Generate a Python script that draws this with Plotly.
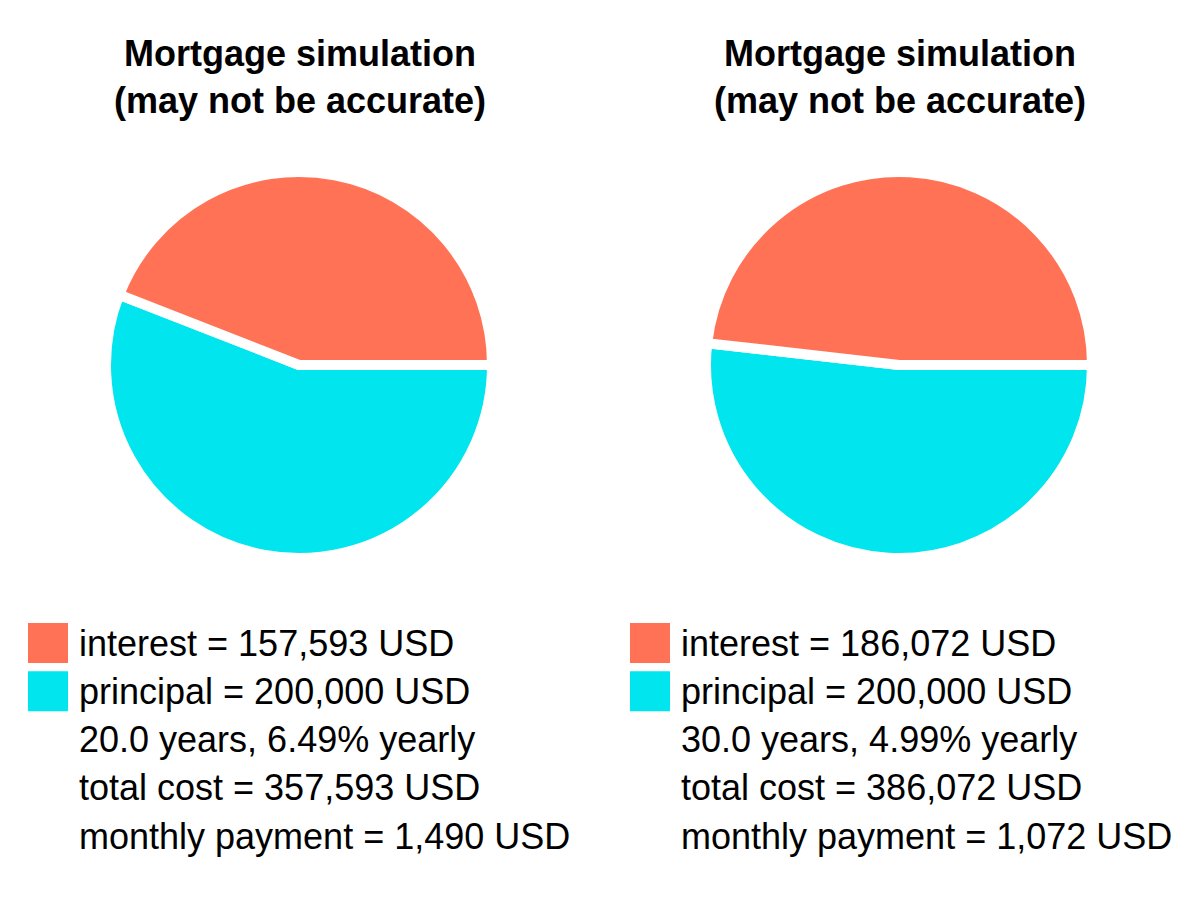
import plotly.graph_objects as go

# two loan scenarios
slice_names = ['principal', 'interest']
interest = [157593, 186072]
principal = [200000, 200000]
years = [20.0, 30.0]
rates = [6.49, 4.99]
total_cost = [357593, 386072]
monthly_payment = [1490, 1072]

COLOR_INTEREST = '#FF7256'
COLOR_PRINCIPAL = '#00E5EE'
FONT = 'Liberation Sans, Arial, sans-serif'
W, H = 1200, 900
PAD = 8  # page body margin in the browser


def px(x):
    return (x - PAD) / W


def py(y):
    return 1 - (y - PAD) / H


fig = go.Figure()

for i in range(2):
    cx = 299 + 600 * i
    cy = 365
    r = 193
    # clockwise from 3 o'clock: principal goes down, interest closes over the top
    fig.add_trace(go.Pie(
        labels=slice_names,
        values=[principal[i], interest[i]],
        sort=False,
        direction='clockwise',
        rotation=90,
        textinfo='none',
        hoverinfo='label+value',
        marker=dict(colors=[COLOR_PRINCIPAL, COLOR_INTEREST], line=dict(color='white', width=10)),
        domain=dict(x=[px(cx - r), px(cx + r)], y=[py(cy + r), py(cy - r)]),
        showlegend=False,
    ))

    # title
    fig.add_annotation(
        x=px(cx + 1), y=py(77), xref='paper', yref='paper',
        text='<b>Mortgage simulation<br>(may not be accurate)</b>',
        showarrow=False, xanchor='center', yanchor='middle',
        font=dict(family=FONT, size=36, color='black'),
    )

    # legend block
    lines = [
        f'interest = {interest[i]:,} USD',
        f'principal = {principal[i]:,} USD',
        f'{years[i]:.1f} years, {rates[i]:.2f}% yearly',
        f'total cost = {total_cost[i]:,} USD',
        f'monthly payment = {monthly_payment[i]:,} USD',
    ]
    colors = [COLOR_INTEREST, COLOR_PRINCIPAL]
    x0 = 28 + 602 * i
    for j, line in enumerate(lines):
        ym = 643 + 48.3 * j
        if j < 2:
            fig.add_shape(
                type='rect', xref='paper', yref='paper',
                x0=px(x0), x1=px(x0 + 40),
                y0=py(ym + 20), y1=py(ym - 20),
                fillcolor=colors[j], line=dict(width=0),
            )
        fig.add_annotation(
            x=px(x0 + 49), y=py(ym), xref='paper', yref='paper',
            text=line, showarrow=False, xanchor='left', yanchor='middle',
            font=dict(family=FONT, size=36, color='black'),
        )

fig.update_layout(
    width=W, height=H,
    margin=dict(l=0, r=0, t=0, b=0),
    paper_bgcolor='white',
    plot_bgcolor='white',
)

fig.write_html('out.html')
